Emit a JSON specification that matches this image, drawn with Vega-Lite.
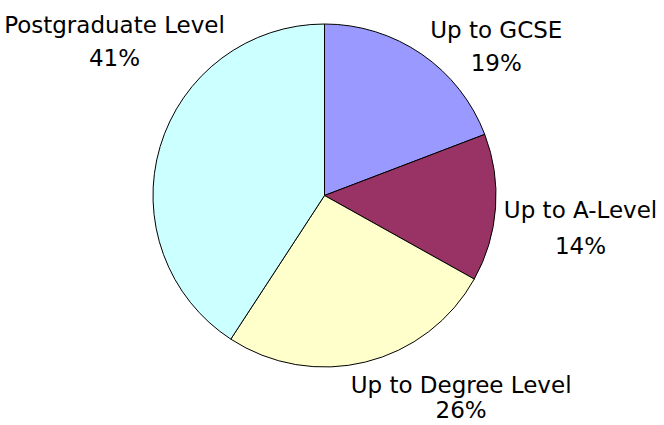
{
  "$schema": "https://vega.github.io/schema/vega-lite/v6.json",
  "width": 649,
  "height": 391,
  "autosize": "none",
  "padding": {"left": 0, "top": 0, "right": 15, "bottom": 34},
  "background": "white",
  "config": {"view": {"stroke": null}},
  "data": {
    "values": [
      {"cat": "Up to GCSE", "pct": 19.2, "idx": 1},
      {"cat": "Up to A-Level", "pct": 13.9, "idx": 2},
      {"cat": "Up to Degree Level", "pct": 26.1, "idx": 3},
      {"cat": "Postgraduate Level", "pct": 40.8, "idx": 4}
    ]
  },
  "transform": [
    {"calculate": "datum.cat + '\\n' + format(datum.pct, '.0f') + '%'", "as": "label"}
  ],
  "encoding": {
    "theta": {"field": "pct", "type": "quantitative", "stack": true},
    "order": {"field": "idx", "type": "quantitative"}
  },
  "layer": [
    {
      "mark": {"type": "arc", "radius": 171.5, "stroke": "black", "strokeWidth": 1},
      "encoding": {
        "color": {
          "field": "cat",
          "type": "nominal",
          "scale": {
            "domain": ["Up to GCSE", "Up to A-Level", "Up to Degree Level", "Postgraduate Level"],
            "range": ["#9999FF", "#993366", "#FFFFCC", "#CCFFFF"]
          },
          "legend": null
        }
      }
    },
    {
      "mark": {"type": "text", "radius": 171.5, "font": "DejaVu Sans", "fontSize": 23, "align": "center", "baseline": "top", "lineBreak": "\n", "lineHeight": 33.4, "dx": 74.5, "dy": -34.6, "color": "black"},
      "encoding": {"text": {"condition": {"test": "datum.cat === 'Up to GCSE'", "field": "label"}, "value": ""}}
    },
    {
      "mark": {"type": "text", "radius": 171.5, "font": "DejaVu Sans", "fontSize": 23, "align": "center", "baseline": "top", "lineBreak": "\n", "lineHeight": 36, "dx": 85, "dy": -7.7, "color": "black"},
      "encoding": {"text": {"condition": {"test": "datum.cat === 'Up to A-Level'", "field": "label"}, "value": ""}}
    },
    {
      "mark": {"type": "text", "radius": 171.5, "font": "DejaVu Sans", "fontSize": 23, "align": "center", "baseline": "top", "lineBreak": "\n", "lineHeight": 25, "dx": 95.5, "dy": 13, "color": "black"},
      "encoding": {"text": {"condition": {"test": "datum.cat === 'Up to Degree Level'", "field": "label"}, "value": ""}}
    },
    {
      "mark": {"type": "text", "radius": 171.5, "font": "DejaVu Sans", "fontSize": 23, "align": "center", "baseline": "top", "lineBreak": "\n", "lineHeight": 33.4, "dx": -45.6, "dy": -131.7, "color": "black"},
      "encoding": {"text": {"condition": {"test": "datum.cat === 'Postgraduate Level'", "field": "label"}, "value": ""}}
    }
  ]
}
